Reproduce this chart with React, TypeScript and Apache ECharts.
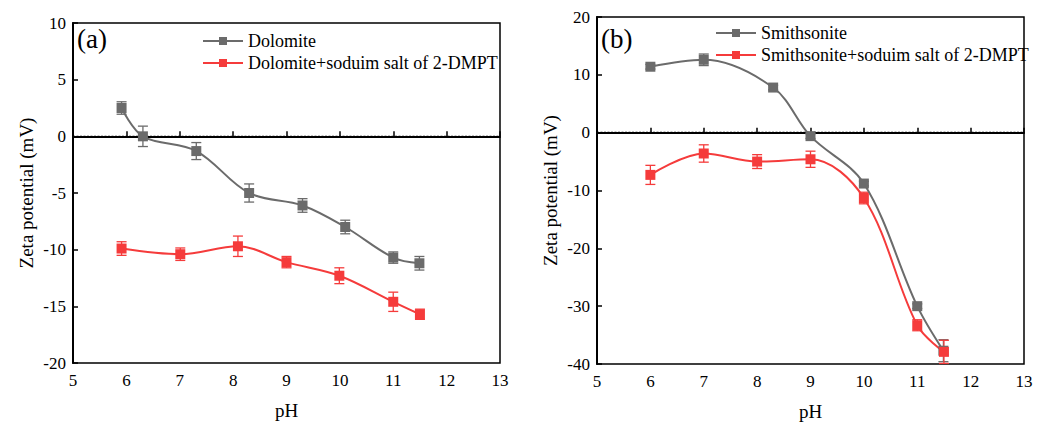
import React, { useEffect, useRef } from "react";
import * as echarts from "echarts";

// Panel (a): Dolomite
const phDolomite = [5.91, 6.31, 7.31, 8.3, 9.3, 10.1, 11.0, 11.49];
const zetaDolomite = [2.5, 0.0, -1.3, -5.0, -6.1, -8.0, -10.7, -11.2];
const errDolomite = [0.55, 0.9, 0.75, 0.8, 0.6, 0.6, 0.5, 0.6];

const phDolomiteSalt = [5.91, 7.01, 8.09, 9.0, 9.99, 11.0, 11.5];
const zetaDolomiteSalt = [-9.9, -10.4, -9.7, -11.1, -12.3, -14.6, -15.7];
const errDolomiteSalt = [0.6, 0.55, 0.9, 0.5, 0.7, 0.85, 0.45];

// Panel (b): Smithsonite
const phSmith = [6.0, 7.0, 8.3, 9.0, 10.0, 11.0, 11.49];
const zetaSmith = [11.4, 12.6, 7.8, -0.6, -8.8, -30.0, -37.7];
const errSmith = [0.4, 1.0, 0.4, 0.4, 0.4, 0.4, 1.9];

const phSmithSalt = [6.0, 7.0, 8.0, 9.0, 10.0, 11.0, 11.5];
const zetaSmithSalt = [-7.3, -3.6, -5.0, -4.6, -11.3, -33.3, -37.9];
const errSmithSalt = [1.65, 1.5, 1.2, 1.4, 1.0, 0.95, 2.0];

const xTicksA = { min: 5, max: 13, interval: 1 };
const yTicksA = { min: -20, max: 10, interval: 5 };
const yTicksB = { min: -40, max: 20, interval: 10 };

const names = {
  dol: "Dolomite",
  dolSalt: "Dolomite+soduim salt of 2-DMPT",
  smi: "Smithsonite",
  smiSalt: "Smithsonite+soduim salt of 2-DMPT",
};

const GRAY = "#6b6b6b";
const RED = "#f53b3b";
const FONT = "Liberation Serif";

const pairs = (xs: number[], ys: number[]) => xs.map((x, i) => [x, ys[i]]);
const errPairs = (xs: number[], ys: number[], es: number[]) =>
  xs.map((x, i) => [x, ys[i], es[i]]);

function errorSeries(data: number[][], color: string, gi: number) {
  return {
    type: "custom",
    xAxisIndex: gi,
    yAxisIndex: gi,
    z: 3,
    silent: true,
    data,
    renderItem: (params: any, api: any) => {
      const x = api.value(0);
      const y = api.value(1);
      const e = api.value(2);
      const lo = api.coord([x, y - e]);
      const hi = api.coord([x, y + e]);
      const hw = 5;
      const style = { stroke: color, lineWidth: 1.3 };
      return {
        type: "group",
        children: [
          { type: "line", shape: { x1: lo[0], y1: lo[1], x2: hi[0], y2: hi[1] }, style },
          { type: "line", shape: { x1: lo[0] - hw, y1: lo[1], x2: lo[0] + hw, y2: lo[1] }, style },
          { type: "line", shape: { x1: hi[0] - hw, y1: hi[1], x2: hi[0] + hw, y2: hi[1] }, style },
        ],
      };
    },
  };
}

function lineSeries(name: string, data: number[][], color: string, gi: number, zeroLine: boolean) {
  const s: any = {
    name,
    type: "line",
    xAxisIndex: gi,
    yAxisIndex: gi,
    data,
    smooth: 0.35,
    symbol: "rect",
    symbolSize: 10,
    z: 4,
    lineStyle: { color, width: 2 },
    itemStyle: { color },
  };
  if (zeroLine) {
    s.markLine = {
      silent: true,
      symbol: ["none", "none"],
      label: { show: false },
      z: 2,
      lineStyle: { color: "#000", type: [2, 1.5], width: 1.3 },
      data: [{ yAxis: 0 }],
    };
  }
  return s;
}

const axisLabelStyle = { color: "#000", fontFamily: FONT, fontSize: 17 };
const axisNameStyle = { color: "#000", fontFamily: FONT, fontSize: 19 };

function xAxis(gi: number) {
  return {
    type: "value",
    gridIndex: gi,
    ...xTicksA,
    name: "pH",
    nameLocation: "middle",
    nameGap: 38,
    nameTextStyle: axisNameStyle,
    axisLine: { show: true, lineStyle: { color: "#000", width: 2 } },
    axisTick: { show: true, inside: true, length: 5, lineStyle: { color: "#000", width: 1.5 } },
    axisLabel: { ...axisLabelStyle, margin: 9 },
    splitLine: { show: false },
  };
}

function yAxis(gi: number, ticks: any) {
  return {
    type: "value",
    gridIndex: gi,
    ...ticks,
    name: "Zeta potential (mV)",
    nameLocation: "middle",
    nameGap: 37,
    nameTextStyle: axisNameStyle,
    axisLine: { show: true, lineStyle: { color: "#000", width: 2 } },
    axisTick: { show: true, inside: true, length: 5, lineStyle: { color: "#000", width: 1.5 } },
    axisLabel: { ...axisLabelStyle, margin: 7 },
    splitLine: { show: false },
  };
}

const legendText = { color: "#000", fontFamily: FONT, fontSize: 18 };

export default function App() {
  const ref = useRef<HTMLDivElement>(null);
  useEffect(() => {
    if (!ref.current) return;
    const chart = echarts.init(ref.current, null, { renderer: "svg" });
    chart.setOption({
      animation: false,
      backgroundColor: "#fff",
      textStyle: { fontFamily: FONT },
      grid: [
        { left: 73, top: 23, right: 547, bottom: 63, show: true, borderColor: "#000", borderWidth: 1.5 },
        { left: 597, top: 17, right: 23, bottom: 58, show: true, borderColor: "#000", borderWidth: 1.5 },
      ],
      xAxis: [xAxis(0), xAxis(1)],
      yAxis: [yAxis(0, yTicksA), yAxis(1, yTicksB)],
      legend: [
        {
          data: [names.dol, names.dolSalt],
          orient: "vertical",
          left: 197,
          top: 27,
          itemWidth: 40,
          itemHeight: 10,
          itemGap: 4,
          textStyle: legendText,
        },
        {
          data: [names.smi, names.smiSalt],
          orient: "vertical",
          left: 710,
          top: 19,
          itemWidth: 40,
          itemHeight: 10,
          itemGap: 4,
          textStyle: legendText,
        },
      ],
      graphic: [
        { type: "text", left: 77, top: 25, style: { text: "(a)", fontFamily: FONT, fontSize: 27, fill: "#000" } },
        { type: "text", left: 601, top: 25, style: { text: "(b)", fontFamily: FONT, fontSize: 27, fill: "#000" } },
      ],
      series: [
        errorSeries(errPairs(phDolomite, zetaDolomite, errDolomite), GRAY, 0),
        errorSeries(errPairs(phDolomiteSalt, zetaDolomiteSalt, errDolomiteSalt), RED, 0),
        lineSeries(names.dol, pairs(phDolomite, zetaDolomite), GRAY, 0, true),
        lineSeries(names.dolSalt, pairs(phDolomiteSalt, zetaDolomiteSalt), RED, 0, false),
        errorSeries(errPairs(phSmith, zetaSmith, errSmith), GRAY, 1),
        errorSeries(errPairs(phSmithSalt, zetaSmithSalt, errSmithSalt), RED, 1),
        lineSeries(names.smi, pairs(phSmith, zetaSmith), GRAY, 1, true),
        lineSeries(names.smiSalt, pairs(phSmithSalt, zetaSmithSalt), RED, 1, false),
      ],
    });
    return () => chart.dispose();
  }, []);
  return (
    <div
      ref={ref}
      style={{ position: "fixed", left: 0, top: 0, width: 1047, height: 426 }}
    />
  );
}
